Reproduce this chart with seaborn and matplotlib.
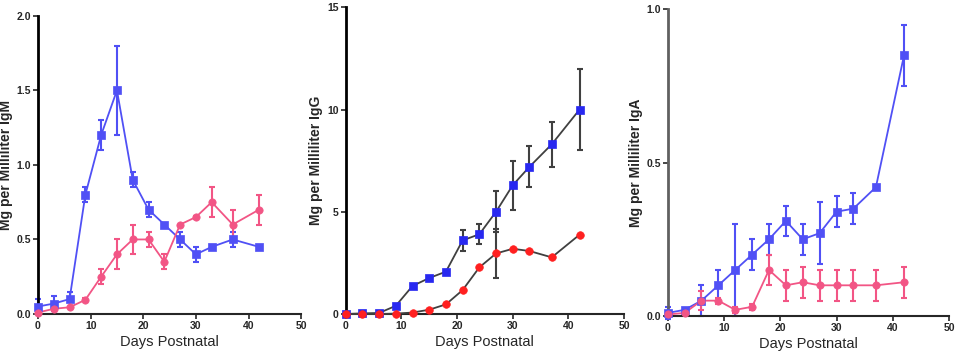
import matplotlib
matplotlib.use("Agg")
import matplotlib.pyplot as plt
import pandas as pd
import seaborn as sns

days = [0, 3, 6, 9, 12, 15, 18, 21, 24, 27, 30, 33, 37, 42]

# IgM
igm_blue = [0.05, 0.07, 0.10, 0.80, 1.20, 1.50, 0.90, 0.70, 0.60, 0.50, 0.40, 0.45, 0.50, 0.45]
igm_blue_err = [0.05, 0.05, 0.05, 0.05, 0.10, 0.30, 0.05, 0.05, 0.01, 0.05, 0.05, 0.01, 0.05, 0.01]
igm_pink = [0.01, 0.035, 0.045, 0.095, 0.25, 0.40, 0.50, 0.50, 0.35, 0.60, 0.65, 0.75, 0.60, 0.70]
igm_pink_err = [0.0, 0.01, 0.0, 0.01, 0.05, 0.10, 0.10, 0.05, 0.05, 0.0, 0.01, 0.10, 0.10, 0.10]

# IgG
igg_blue = [0.0, 0.03, 0.05, 0.40, 1.37, 1.76, 2.07, 3.60, 3.90, 5.00, 6.30, 7.20, 8.30, 10.0]
igg_blue_err = [0, 0, 0, 0, 0, 0, 0, 0.5, 0.5, 1.0, 1.2, 1.0, 1.1, 2.0]
igg_red = [0.0, 0.0, 0.0, 0.02, 0.07, 0.21, 0.47, 1.17, 2.28, 2.96, 3.19, 3.08, 2.77, 3.88]
igg_red_err = [0, 0, 0, 0, 0, 0, 0, 0, 0, 1.2, 0, 0, 0, 0]

# IgA
iga_blue = [0.01, 0.02, 0.05, 0.10, 0.15, 0.20, 0.25, 0.31, 0.25, 0.27, 0.34, 0.35, 0.42, 0.85]
iga_blue_err = [0.02, 0.0, 0.05, 0.05, 0.15, 0.05, 0.05, 0.05, 0.05, 0.10, 0.05, 0.05, 0.0, 0.10]
iga_pink = [0.005, 0.01, 0.05, 0.05, 0.02, 0.03, 0.15, 0.10, 0.11, 0.10, 0.10, 0.10, 0.10, 0.11]
iga_pink_err = [0.0, 0.0, 0.03, 0.01, 0.01, 0.01, 0.05, 0.05, 0.05, 0.05, 0.05, 0.05, 0.05, 0.05]

sns.set_style("ticks")
plt.rcParams["font.family"] = ["Liberation Sans", "DejaVu Sans"]

BLUE = "#5050f5"
PINK = "#f25585"
BLUE_G = "#2828f0"
RED_G = "#ff2020"


def dibujar_serie(ax, y, err, marker, color, line_color, err_color, size):
    df = pd.DataFrame({"dia": days, "valor": y})
    ax.errorbar(days, y, yerr=err, fmt="none", ecolor=err_color, elinewidth=1.5,
                capsize=2.5, capthick=1.5, zorder=2, clip_on=False)
    sns.lineplot(data=df, x="dia", y="valor", ax=ax, color=line_color, linewidth=1.3,
                 zorder=3, clip_on=False)
    sns.scatterplot(data=df, x="dia", y="valor", ax=ax, marker=marker, color=color,
                    s=size, edgecolor=color, linewidth=0.5, zorder=4, clip_on=False)


def formato(ax, ymax, yticks, yticklabels, ylabel, label_x, left_color="black"):
    ax.set_xlim(0, 50)
    ax.set_ylim(0, ymax)
    ax.set_xticks([0, 10, 20, 30, 40, 50])
    ax.set_yticks(yticks)
    ax.set_yticklabels(yticklabels)
    ax.tick_params(labelsize=7.5, length=3.5, width=1.2, pad=1.5)
    for lab in ax.get_xticklabels() + ax.get_yticklabels():
        lab.set_fontweight("bold")
    ax.set_xlabel("Days Postnatal", fontsize=10.5, labelpad=3)
    ax.set_ylabel(ylabel, fontsize=10, fontweight="bold")
    ax.yaxis.set_label_coords(label_x, 0.5)
    sns.despine(ax=ax)
    ax.spines["left"].set_linewidth(2)
    ax.spines["left"].set_color(left_color)
    ax.spines["bottom"].set_linewidth(1.5)


fig = plt.figure(figsize=(9.57, 3.55), dpi=100)
ax1 = fig.add_axes([0.0397, 0.1155, 0.275, 0.840])
ax2 = fig.add_axes([0.3612, 0.1155, 0.291, 0.864])
ax3 = fig.add_axes([0.6977, 0.1099, 0.294, 0.864])

dibujar_serie(ax1, igm_blue, igm_blue_err, "s", BLUE, BLUE, BLUE, 28)
dibujar_serie(ax1, igm_pink, igm_pink_err, "o", PINK, PINK, PINK, 28)
formato(ax1, 2.0, [0, 0.5, 1.0, 1.5, 2.0], ["0.0", "0.5", "1.0", "1.5", "2.0"],
        "Mg per Milliliter IgM", -0.095)

dibujar_serie(ax2, igg_blue, igg_blue_err, "s", BLUE_G, "#404040", "#404040", 30)
dibujar_serie(ax2, igg_red, igg_red_err, "o", RED_G, "#404040", "#404040", 30)
formato(ax2, 15, [0, 5, 10, 15], ["0", "5", "10", "15"], "Mg per Milliliter IgG", -0.081)

dibujar_serie(ax3, iga_blue, iga_blue_err, "s", BLUE, BLUE, BLUE, 28)
dibujar_serie(ax3, iga_pink, iga_pink_err, "o", PINK, PINK, PINK, 28)
formato(ax3, 1.0, [0, 0.5, 1.0], ["0.0", "0.5", "1.0"], "Mg per Milliliter IgA", -0.088,
        left_color="#606060")

fig.savefig("out.png", dpi=100)
